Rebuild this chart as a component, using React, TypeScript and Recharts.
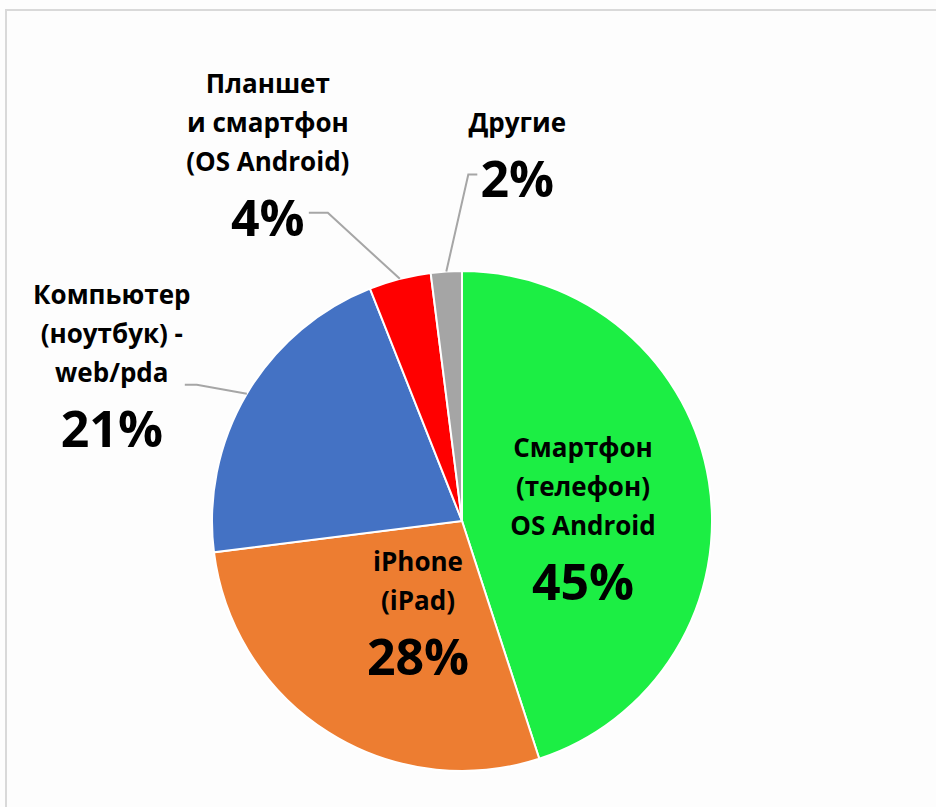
import React from "react";
import { PieChart, Pie, Cell } from "recharts";

// values, clockwise from 12 o'clock
const nameLines = [
  ["Смартфон", "(телефон)", "OS Android"],
  ["iPhone", "(iPad)"],
  ["Компьютер", "(ноутбук) -", "web/pda"],
  ["Планшет", "и смартфон", "(OS Android)"],
  ["Другие"],
];
const values = [45, 28, 21, 4, 2];
const colors = ["#1cee44", "#ed7d31", "#4472c4", "#ff0000", "#a5a5a5"];

const data = values.map((v, i) => ({ name: nameLines[i].join(" "), value: v }));

// label placement: inside labels offset from pie centre, outside ones use a bent leader line
type Place =
  | { inside: true; dx: number; dy: number }
  | { inside: false; elbow: [number, number]; tail: number; dx: number; dy: number };

const places: Place[] = [
  { inside: true, dx: 121, dy: 79 },
  { inside: true, dx: -44, dy: 154 },
  { inside: false, elbow: [-50, -9], tail: -12, dx: -73, dy: 62 },
  { inside: false, elbow: [-72, -66], tail: -19, dx: -41, dy: 23 },
  { inside: false, elbow: [22, -97], tail: 9, dx: 40, dy: 23 },
];

const FONT = "'Open Sans', 'DejaVu Sans', sans-serif";
const RAD = Math.PI / 180;

function renderLabel(props: any) {
  const { cx, cy, midAngle, outerRadius, index } = props;
  const p = places[index];
  let px: number, py: number;
  let line: React.ReactNode = null;
  if (p.inside) {
    px = cx + p.dx;
    py = cy + p.dy;
  } else {
    const ex = cx + outerRadius * Math.cos(-midAngle * RAD);
    const ey = cy + outerRadius * Math.sin(-midAngle * RAD);
    const kx = ex + p.elbow[0];
    const ky = ey + p.elbow[1];
    const tx = kx + p.tail;
    line = (
      <polyline
        points={`${ex},${ey} ${kx},${ky} ${tx},${ky}`}
        fill="none"
        stroke="#a6a6a6"
        strokeWidth={2}
      />
    );
    px = tx + p.dx;
    py = ky + p.dy;
  }
  const lines = nameLines[index];
  return (
    <g key={`lbl-${index}`}>
      {line}
      {lines.map((t, i) => (
        <text
          key={i}
          x={px}
          y={py - 65 - 39 * (lines.length - 1 - i)}
          textAnchor="middle"
          fontFamily={FONT}
          fontWeight={700}
          fontSize={26}
          fill="#000"
        >
          {t}
        </text>
      ))}
      <text
        x={px}
        y={py}
        textAnchor="middle"
        fontFamily={FONT}
        fontWeight={700}
        fontSize={50}
        fill="#000"
      >
        {values[index]}%
      </text>
    </g>
  );
}

export default function App() {
  return (
    <div
      style={{
        position: "absolute",
        left: 0,
        top: 0,
        width: 936,
        height: 807,
        background: "#fdfdfd",
        overflow: "hidden",
      }}
    >
      <div
        style={{
          position: "absolute",
          left: 5,
          top: 9,
          width: 940,
          height: 820,
          borderTop: "2px solid #d9d9d9",
          borderLeft: "2px solid #d9d9d9",
        }}
      />
      <PieChart
        width={936}
        height={807}
        margin={{ top: 0, right: 0, bottom: 0, left: 0 }}
        style={{ position: "absolute", left: 0, top: 0 }}
      >
        <Pie
          data={data}
          dataKey="value"
          cx={462}
          cy={521}
          outerRadius={250}
          startAngle={90}
          endAngle={-270}
          stroke="#ffffff"
          strokeWidth={2}
          label={renderLabel}
          labelLine={false}
          isAnimationActive={false}
        >
          {data.map((d, i) => (
            <Cell key={d.name} fill={colors[i]} />
          ))}
        </Pie>
      </PieChart>
    </div>
  );
}
